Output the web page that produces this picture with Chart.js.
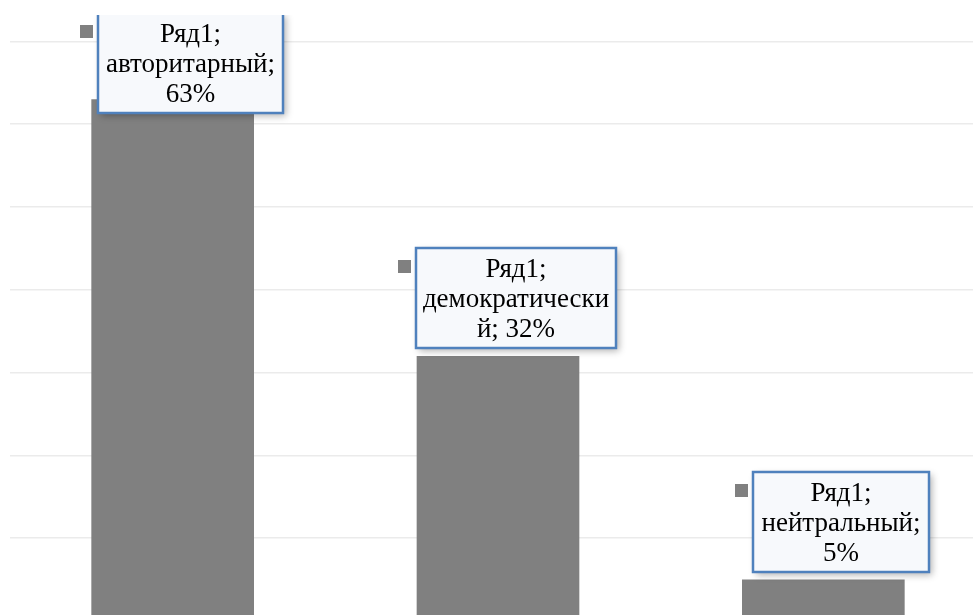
<!DOCTYPE html>
<html>
<head>
<meta charset="utf-8">
<script src="https://cdn.jsdelivr.net/npm/chart.js@4/dist/chart.umd.min.js"></script>
<style>
    body { margin: 0; overflow: hidden; background: #fff; }
    #wrap { position: absolute; left: 0; top: 0; }
</style>
</head>
<body>
<div id="wrap"><canvas id="chart" width="986" height="621"></canvas></div>
<script>
var categories = ["авторитарный", "демократический", "нейтральный"];
var values = [63, 32, 5];
var seriesName = "Ряд1";
// label text as it wraps in the picture
var labelLines = [
    ["Ряд1;", "авторитарный;", "63%"],
    ["Ряд1;", "демократически", "й; 32%"],
    ["Ряд1;", "нейтральный;", "5%"]
];

var barColor = "#808080";
var labelFont = "27px 'Liberation Serif'";
var boxWidths = [185, 200, 176];

// data labels: box with blue border plus a legend key on the left
var labelBoxes = {
    id: "labelBoxes",
    afterDatasetsDraw(chart) {
        var ctx = chart.ctx;
        var meta = chart.getDatasetMeta(0);
        ctx.save();
        // the picture is cut just under the top of the first box
        ctx.beginPath();
        ctx.rect(0, 15, chart.width, chart.height);
        ctx.clip();
        ctx.font = labelFont;
        meta.data.forEach(function (bar, i) {
            var lines = labelLines[i];
            var w = boxWidths[i];
            var h = 100;
            var left = Math.round(bar.x + 18 - w / 2);
            var top = Math.max(13, Math.round(bar.y - 8 - h));

            // legend key
            ctx.fillStyle = barColor;
            ctx.fillRect(left - 18, top + 12, 13, 13);

            // box with shadow
            ctx.save();
            ctx.shadowColor = "rgba(0,0,0,0.3)";
            ctx.shadowBlur = 7;
            ctx.shadowOffsetX = 3;
            ctx.shadowOffsetY = 3;
            ctx.fillStyle = "#f7f9fc";
            ctx.fillRect(left, top, w, h);
            ctx.restore();
            ctx.strokeStyle = "#4f81bd";
            ctx.lineWidth = 2.5;
            ctx.strokeRect(left, top, w, h);

            ctx.fillStyle = "#000";
            ctx.textAlign = "center";
            ctx.textBaseline = "alphabetic";
            lines.forEach(function (l, k) {
                ctx.fillText(l, left + w / 2, top + 29 + k * 30);
            });
        });
        ctx.restore();
    }
};

function draw() {
    new Chart(document.getElementById("chart"), {
        type: "bar",
        data: {
            labels: categories,
            datasets: [{
                label: seriesName,
                data: values,
                backgroundColor: barColor,
                categoryPercentage: 1,
                barPercentage: 0.5
            }]
        },
        options: {
            responsive: false,
            animation: false,
            layout: { padding: { left: 10, right: 0, top: 0, bottom: 0 } },
            plugins: {
                legend: { display: false },
                tooltip: { enabled: false }
            },
            scales: {
                x: { display: false },
                y: {
                    min: 0,
                    max: 75,
                    ticks: { display: false, stepSize: 10 },
                    border: { display: false },
                    grid: {
                        drawTicks: false,
                        lineWidth: 1.5,
                        color: function (c) {
                            return c.tick && c.tick.value > 70 ? "rgba(0,0,0,0)" : "#ebebeb";
                        }
                    }
                }
            }
        },
        plugins: [labelBoxes]
    });
}

document.fonts.load(labelFont).then(draw, draw);
</script>
</body>
</html>
